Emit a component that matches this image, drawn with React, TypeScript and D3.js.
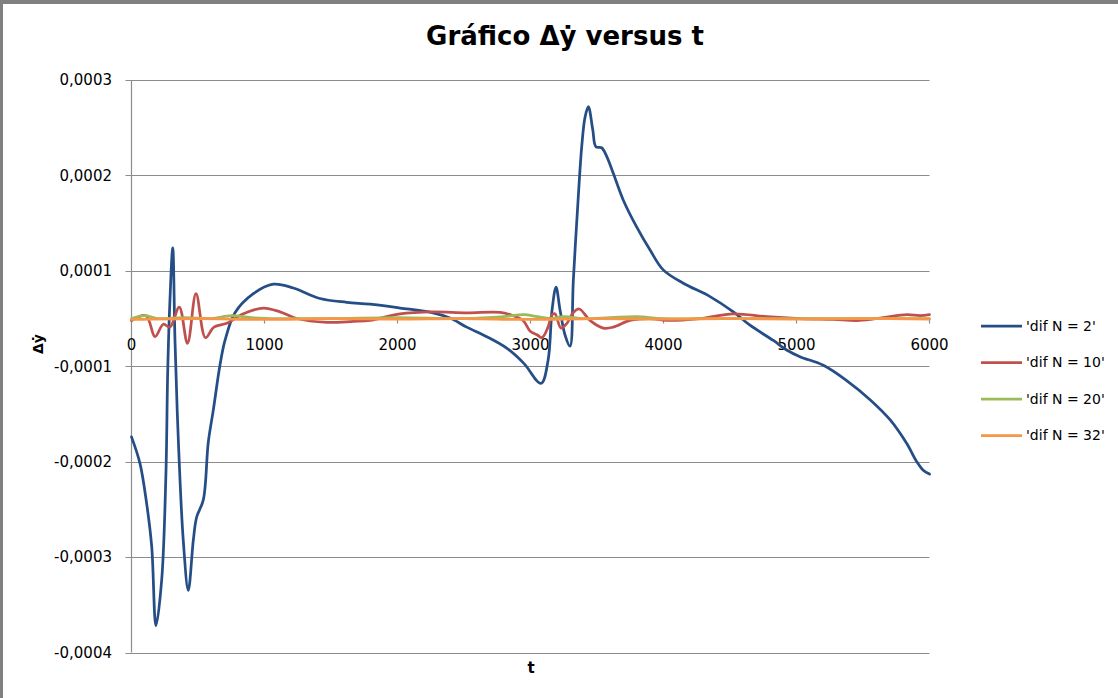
import React from 'react';
import * as d3 from 'd3';

const W = 1118;
const H = 698;

const TITLE = 'Gráfico Δẏ versus t';
const X_TITLE = 't';
const Y_TITLE = 'Δẏ';

const xTicks = [0, 1000, 2000, 3000, 4000, 5000, 6000];
const yTicks = [-0.00035, -0.00025, -0.00015, -0.00005, 0.00005, 0.00015, 0.00025];
const yTickLabels = ['-0,0004', '-0,0003', '-0,0002', '-0,0001', '0,0001', '0,0002', '0,0003'];

const seriesNames = ["'dif N = 2'", "'dif N = 10'", "'dif N = 20'", "'dif N = 32'"];
const seriesColors = ['#264E86', '#C0504D', '#9BBB59', '#F79646'];

// 'dif N = 2'
const tN2 = [0, 64, 114, 152, 184, 227, 259, 272, 289, 310, 327, 352, 389, 427, 465, 490, 540, 577, 615, 665, 703, 778, 916, 1066, 1217, 1417, 1618, 1793, 2019, 2267, 2395, 2520, 2671, 2821, 2950, 3079, 3132, 3162, 3192, 3222, 3259, 3297, 3322, 3359, 3385, 3410, 3435, 3468, 3492, 3535, 3573, 3623, 3698, 3798, 3898, 3998, 4149, 4350, 4525, 4650, 4826, 4926, 5026, 5202, 5377, 5553, 5703, 5829, 5904, 5953, 6000];
const yN2 = [-0.000124, -0.000152, -0.000194, -0.000239, -0.000322, -0.000274, -0.000162, -0.000057, 0.000019, 0.000074, -0.000023, -0.000127, -0.000232, -0.000285, -0.000232, -0.000208, -0.00019, -0.00013, -0.000096, -0.000049, -0.000023, 0.000006, 0.000026, 0.000036, 0.000032, 0.000021, 0.000017, 0.000015, 0.000011, 0.000006, 0.0000005, -0.000009, -0.000019, -0.000031, -0.000047, -0.000068, -0.000044, 0.000009, 0.000033, 0.000009, -0.000017, -0.000029, 0.00004, 0.000127, 0.00018, 0.000211, 0.000222, 0.000198, 0.00018, 0.000179, 0.00017, 0.000152, 0.000124, 0.000096, 0.000072, 0.000051, 0.000037, 0.000023, 0.000007, -0.000007, -0.000023, -0.000033, -0.00004, -0.000049, -0.000065, -0.000085, -0.000106, -0.000131, -0.00015, -0.000159, -0.000163];

// 'dif N = 10'
const tN10 = [0, 109, 177, 239, 289, 359, 421, 485, 556, 620, 716, 841, 991, 1117, 1242, 1468, 1668, 1793, 2019, 2267, 2520, 2771, 2868, 2944, 2996, 3049, 3086, 3132, 3162, 3184, 3229, 3274, 3320, 3367, 3447, 3547, 3623, 3748, 3898, 4024, 4274, 4525, 4776, 5026, 5274, 5474, 5653, 5829, 5929, 6000];
const yN10 = [-0.000002, 0.000003, -0.000019, -0.000006, -0.000009, 0.000012, -0.000026, 0.000026, -0.00002, -0.000009, -0.000005, 0.000005, 0.000011, 0.000007, 0.0, -0.000004, -0.000003, -0.000002, 0.000005, 0.000007, 0.000006, 0.0000065, 0.000003, -0.000002, -0.000013, -0.000017, -0.00002, -0.000009, 0.000004, 0.000005, -0.00001, -0.000005, 0.000006, 0.00001, -0.000002, -0.00001, -0.000009, -0.000002, 0.0, -0.000002, 0.0, 0.000005, 0.000002, 0.0, -0.000001, -0.000002, 0.000001, 0.000004, 0.000003, 0.000004];

// 'dif N = 20'
const tN20 = [0, 100, 200, 400, 600, 750, 900, 1100, 1500, 2000, 2500, 2800, 2950, 3050, 3150, 3250, 3400, 3600, 3800, 4000, 4500, 5000, 5500, 6000];
const yN20 = [0.0, 0.000003, 0.0, 0.000001, 0.0, 0.000003, 0.000001, 0.0, 0.0, 0.000001, 0.0, 0.000002, 0.000004, 0.000002, 0.0, 0.000002, 0.0, 0.000001, 0.000002, 0.0, 0.0, 0.0, 0.0, 0.0];

// 'dif N = 32'
const tN32 = [0, 500, 1000, 1500, 2000, 2500, 3000, 3500, 4000, 4500, 5000, 5500, 6000];
const yN32 = [-0.000001, 0.0, -0.000001, 0.0, -0.0000005, 0.0, -0.000001, 0.0, -0.0000005, 0.0, -0.0000005, 0.0, -0.0000005];

const seriesT = [tN2, tN10, tN20, tN32];
const seriesY = [yN2, yN10, yN20, yN32];

const FONT = "'DejaVu Sans', sans-serif";

export default function App() {
  const x = d3.scaleLinear().domain([0, 6000]).range([131.5, 929.5]);
  const y = d3.scaleLinear().domain([-0.00035, 0.00025]).range([652.5, 80]);
  const line = d3
    .line<[number, number]>()
    .x((d) => x(d[0]))
    .y((d) => y(d[1]))
    .curve(d3.curveCatmullRom.alpha(0.5));

  const y0 = y(0);
  const x0 = x(0);
  const [xr0, xr1] = x.range();

  return (
    <svg
      width={W}
      height={H}
      style={{ position: 'absolute', left: 0, top: 0, background: '#fff' }}
      fontFamily={FONT}
    >
      <rect x={0} y={0} width={W} height={H} fill="#fff" />
      {/* frame */}
      <line x1={0} x2={W} y1={2} y2={2} stroke="#808080" strokeWidth={4} />
      <line x1={1.5} x2={1.5} y1={0} y2={H} stroke="#808080" strokeWidth={3} />

      <text x={565} y={45} textAnchor="middle" fontSize={26} fontWeight="bold" fill="#000">
        {TITLE}
      </text>

      {/* gridlines */}
      {yTicks.map((v, i) => (
        <line key={'g' + i} x1={xr0 - 6} x2={xr1} y1={Math.round(y(v)) + 0.5} y2={Math.round(y(v)) + 0.5} stroke="#8C8C8C" strokeWidth={1.2} />
      ))}
      {/* y axis */}
      <line x1={x0} x2={x0} y1={y(0.00025)} y2={y(-0.00035)} stroke="#8C8C8C" strokeWidth={1.2} />
      {yTicks.map((v, i) => (
        <text key={'yl' + i} x={112} y={y(v)} dy="0.35em" textAnchor="end" fontSize={15} fill="#000">
          {yTickLabels[i]}
        </text>
      ))}
      {/* x axis */}
      <line x1={xr0} x2={xr1} y1={y0} y2={y0} stroke="#8C8C8C" strokeWidth={1.2} />
      {xTicks.map((t, i) => (
        <g key={'xt' + i}>
          <line x1={x(t)} x2={x(t)} y1={y0} y2={y0 + 5} stroke="#8C8C8C" strokeWidth={1.2} />
          <text x={x(t)} y={345} dy="0.35em" textAnchor="middle" fontSize={15} fill="#000">
            {t}
          </text>
        </g>
      ))}

      {/* series */}
      {seriesT.map((ts, s) => (
        <path
          key={'s' + s}
          d={line(ts.map((t, i) => [t, seriesY[s][i]] as [number, number])) || ''}
          fill="none"
          stroke={seriesColors[s]}
          strokeWidth={2.75}
          strokeLinejoin="round"
          strokeLinecap="round"
        />
      ))}

      {/* axis titles */}
      <text x={531} y={668} dy="0.35em" textAnchor="middle" fontSize={15} fontWeight="bold" fill="#000">
        {X_TITLE}
      </text>
      <text transform="translate(38,344) rotate(-90)" dy="0.35em" textAnchor="middle" fontSize={14} fontWeight="bold" fill="#000">
        {Y_TITLE}
      </text>

      {/* legend */}
      {seriesNames.map((n, i) => (
        <g key={'lg' + i} transform={`translate(0,${326 + i * 36.5})`}>
          <line x1={981} x2={1022} y1={0} y2={0} stroke={seriesColors[i]} strokeWidth={2.75} />
          <text x={1026} y={0} dy="0.35em" fontSize={14} fill="#000">
            {n}
          </text>
        </g>
      ))}
    </svg>
  );
}
